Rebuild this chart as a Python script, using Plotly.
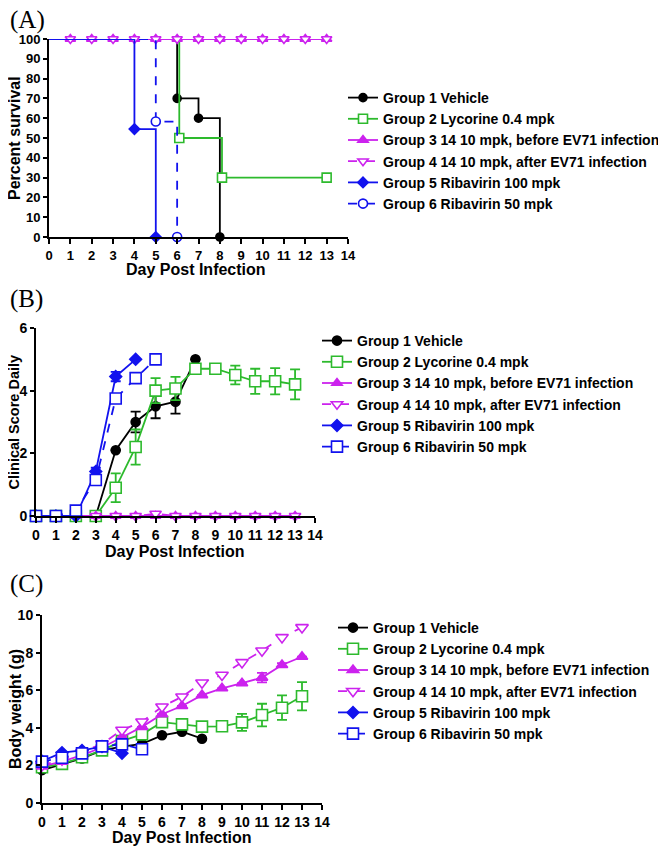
import plotly.graph_objects as go

W, H = 666, 847
OFF = 8  # page body margin offset in the screenshot

def fx(px):
    return (px - OFF) / W

def fy(py):
    return 1 - (py - OFF) / H

# ---------------- DATA ----------------
group_names = [
    "Group 1 Vehicle",
    "Group 2 Lycorine 0.4 mpk",
    "Group 3 14 10 mpk, before EV71 infection",
    "Group 4 14 10 mpk, after EV71 infection",
    "Group 5 Ribavirin 100 mpk",
    "Group 6 Ribavirin 50 mpk",
]

# Panel A: Kaplan-Meier survival (time, percent survival)
surv_t_g1 = [0, 6, 7, 8]
surv_s_g1 = [100, 70, 60, 0]
surv_t_g2 = [0, 6.1, 8.1, 13]
surv_s_g2 = [100, 50, 30, 30]
surv_t_g3 = [0, 1, 2, 3, 4, 5, 6, 7, 8, 9, 10, 11, 12, 13]
surv_s_g3 = [100, 100, 100, 100, 100, 100, 100, 100, 100, 100, 100, 100, 100, 100]
surv_t_g4 = [0, 1, 2, 3, 4, 5, 6, 7, 8, 9, 10, 11, 12, 13]
surv_s_g4 = [100, 100, 100, 100, 100, 100, 100, 100, 100, 100, 100, 100, 100, 100]
surv_t_g5 = [0, 4, 5]
surv_s_g5 = [100, 54.5, 0]
surv_t_g6 = [0, 5, 6]
surv_s_g6 = [100, 58.3, 0]

# Panel B: clinical score (mean, error)
cs_d_g1 = [0, 1, 2, 3, 4, 5, 6, 7, 8]
cs_v_g1 = [0, 0, 0, 0, 2.1, 3.0, 3.5, 3.65, 5.0]
cs_e_g1 = [0, 0, 0, 0, 0, 0.33, 0.38, 0.38, 0]
cs_d_g2 = [0, 1, 2, 3, 4, 5, 6, 7, 8, 9, 10, 11, 12, 13]
cs_v_g2 = [0, 0, 0, 0, 0.9, 2.2, 4.0, 4.07, 4.7, 4.7, 4.5, 4.3, 4.3, 4.2]
cs_e_g2 = [0, 0, 0, 0, 0.46, 0.56, 0.4, 0.37, 0, 0, 0.3, 0.4, 0.42, 0.48]
cs_d_g3 = [0, 1, 2, 3, 4, 5, 6, 7, 8, 9, 10, 11, 12, 13]
cs_v_g3 = [0, 0, 0, 0, 0, 0, 0, 0, 0, 0, 0, 0, 0, 0]
cs_d_g4 = [0, 1, 2, 3, 4, 5, 6, 7, 8, 9, 10, 11, 12, 13]
cs_v_g4 = [0, 0, 0, 0, 0, 0, 0.07, 0, 0, 0, 0, 0, 0, 0]
cs_d_g5 = [0, 1, 2, 3, 4, 5]
cs_v_g5 = [0, 0, 0, 1.42, 4.45, 5.0]
cs_e_g5 = [0, 0, 0, 0.12, 0.15, 0]
cs_d_g6 = [0, 1, 2, 3, 4, 5, 6]
cs_v_g6 = [0, 0, 0.17, 1.15, 3.75, 4.4, 5.0]
cs_e_g6 = [0, 0, 0, 0.1, 0.1, 0, 0]

# Panel C: body weight (g)
bw_d_g1 = [0, 1, 2, 3, 4, 5, 6, 7, 8]
bw_v_g1 = [1.75, 2.05, 2.37, 2.8, 3.0, 3.15, 3.6, 3.79, 3.42]
bw_d_g2 = [0, 1, 2, 3, 4, 5, 6, 7, 8, 9, 10, 11, 12, 13]
bw_v_g2 = [1.9, 2.08, 2.43, 2.8, 3.3, 3.65, 4.3, 4.18, 4.06, 4.08, 4.29, 4.68, 5.07, 5.68]
bw_e_g2 = [0, 0, 0, 0, 0, 0, 0, 0.1, 0, 0.15, 0.45, 0.6, 0.65, 0.75]
bw_d_g3 = [0, 1, 2, 3, 4, 5, 6, 7, 8, 9, 10, 11, 12, 13]
bw_v_g3 = [1.95, 2.2, 2.55, 2.95, 3.5, 4.05, 4.72, 5.16, 5.74, 6.1, 6.37, 6.67, 7.34, 7.78]
bw_e_g3 = [0, 0, 0, 0, 0, 0, 0, 0, 0, 0, 0, 0.25, 0.1, 0]
bw_d_g4 = [0, 1, 2, 3, 4, 5, 6, 7, 8, 9, 10, 11, 12, 13]
bw_v_g4 = [2.0, 2.3, 2.7, 3.15, 3.88, 4.32, 5.12, 5.65, 6.4, 6.81, 7.48, 8.1, 8.81, 9.34]
bw_d_g5 = [0, 1, 2, 3, 4]
bw_v_g5 = [2.22, 2.68, 2.8, 3.0, 2.65]
bw_d_g6 = [0, 1, 2, 3, 4, 5]
bw_v_g6 = [2.2, 2.41, 2.64, 3.01, 3.12, 2.86]

day_ticks = list(range(0, 15))

# ---------------- STYLE ----------------
BLACK = "#000000"
GREEN = "#2DBA2D"
MAG = "#CC22EE"
BLUE = "#1212EE"
FONT = "Liberation Sans, Arial, sans-serif"

styles = [
    dict(color=BLACK, symbol="circle", fill=BLACK, dash="solid"),
    dict(color=GREEN, symbol="square", fill="white", dash="solid"),
    dict(color=MAG, symbol="triangle-up", fill=MAG, dash="solid"),
    dict(color=MAG, symbol="triangle-down", fill="white", dash="dash"),
    dict(color=BLUE, symbol="diamond", fill=BLUE, dash="solid"),
    dict(color=BLUE, symbol="square", fill="white", dash="dash"),
]

fig = go.Figure()


def marker(st, size, symbol=None):
    return dict(symbol=symbol or st["symbol"], size=size, color=st["fill"],
                line=dict(color=st["color"], width=1.6))


# ---- Panel A ----
surv = [(surv_t_g1, surv_s_g1), (surv_t_g2, surv_s_g2), (surv_t_g3, surv_s_g3),
        (surv_t_g4, surv_s_g4), (surv_t_g5, surv_s_g5), (surv_t_g6, surv_s_g6)]
for i, (t, s) in enumerate(surv):
    st = styles[i]
    sym = "circle" if i == 5 else st["symbol"]
    sz = 8 if i in (0, 4) else 9
    fig.add_trace(go.Scatter(x=t, y=s, mode="lines", line_shape="hv",
                             line=dict(color=st["color"], width=1.8, dash=st["dash"]),
                             xaxis="x", yaxis="y", showlegend=False, cliponaxis=False))
    fig.add_trace(go.Scatter(x=t[1:], y=s[1:], mode="markers", marker=marker(st, sz, sym),
                             xaxis="x", yaxis="y", showlegend=False, cliponaxis=False))
    fig.add_trace(go.Scatter(x=[None], y=[None], mode="lines+markers", name=group_names[i],
                             line=dict(color=st["color"], width=1.8, dash=st["dash"]),
                             marker=marker(st, sz, sym), xaxis="x", yaxis="y",
                             legend="legend"))

# ---- Panel B ----
cs = [(cs_d_g1, cs_v_g1, cs_e_g1), (cs_d_g2, cs_v_g2, cs_e_g2), (cs_d_g3, cs_v_g3, None),
      (cs_d_g4, cs_v_g4, None), (cs_d_g5, cs_v_g5, cs_e_g5), (cs_d_g6, cs_v_g6, cs_e_g6)]
for i, (d, v, e) in enumerate(cs):
    st = styles[i]
    sz = {0: 9, 1: 11, 2: 9, 3: 10, 4: 9, 5: 11}[i]
    err = dict(type="data", array=e, visible=True, color=st["color"], thickness=1.8, width=5) if e else None
    fig.add_trace(go.Scatter(x=d, y=v, mode="lines+markers", name=group_names[i],
                             line=dict(color=st["color"], width=1.8, dash=st["dash"]),
                             marker=marker(st, sz), error_y=err,
                             xaxis="x2", yaxis="y2", legend="legend2", cliponaxis=False))

# ---- Panel C ----
bw = [(bw_d_g1, bw_v_g1, None), (bw_d_g2, bw_v_g2, bw_e_g2), (bw_d_g3, bw_v_g3, bw_e_g3),
      (bw_d_g4, bw_v_g4, None), (bw_d_g5, bw_v_g5, None), (bw_d_g6, bw_v_g6, None)]
for i, (d, v, e) in enumerate(bw):
    st = styles[i]
    sz = {0: 9, 1: 11, 2: 10, 3: 11, 4: 9, 5: 11}[i]
    err = dict(type="data", array=e, visible=True, color=st["color"], thickness=1.8, width=5) if e else None
    fig.add_trace(go.Scatter(x=d, y=v, mode="lines+markers", name=group_names[i],
                             line=dict(color=st["color"], width=1.8, dash=st["dash"]),
                             marker=marker(st, sz), error_y=err,
                             xaxis="x3", yaxis="y3", legend="legend3", cliponaxis=False))


def xax(d0, d1, anchor, tsize):
    return dict(domain=[fx(d0), fx(d1)], range=[0, 14], anchor=anchor,
                tickmode="array", tickvals=day_ticks, ticktext=[str(t) for t in day_ticks],
                showline=True, linecolor="black", linewidth=2, ticks="outside",
                ticklen=5, tickwidth=2, tickcolor="black", showgrid=False, zeroline=False,
                automargin=False,
                tickfont=dict(family=FONT, size=tsize, color="black", weight="bold"))


def yax(d0, d1, rng, dtick, anchor, tsize):
    return dict(domain=[fy(d0), fy(d1)], range=rng, anchor=anchor, dtick=dtick, tick0=0,
                showline=True, linecolor="black", linewidth=2, ticks="outside",
                ticklen=4, tickwidth=2, tickcolor="black", showgrid=False, zeroline=False,
                automargin=False,
                tickfont=dict(family=FONT, size=tsize, color="black", weight="bold"))


leg_common = dict(bgcolor="rgba(0,0,0,0)", xanchor="left", yanchor="top",
                  tracegroupgap=0, itemclick=False)
leg_font = dict(family=FONT, size=14, color="black", weight="bold")

fig.update_layout(
    width=W, height=H, margin=dict(l=0, r=0, t=0, b=0, autoexpand=False),
    paper_bgcolor="white", plot_bgcolor="white",
    xaxis=xax(49, 348, "y", 13),
    yaxis=yax(237, 39, [0, 100], 10, "x", 13),
    xaxis2=xax(36, 315, "y2", 14),
    yaxis2=yax(516, 328, [0, 6], 2, "x2", 14),
    xaxis3=xax(42, 322, "y3", 14),
    yaxis3=yax(803, 615, [0, 10], 2, "x3", 14),
    legend=dict(x=fx(343), y=fy(82), font=leg_font, **leg_common),
    legend2=dict(x=fx(317), y=fy(325), font=leg_font, **leg_common),
    legend3=dict(x=fx(333), y=fy(612), font=leg_font, **leg_common),
)

ann_font = dict(family=FONT, size=16, color="black", weight="bold")
ann_font_b = dict(family=FONT, size=14.5, color="black", weight="bold")
panel_font = dict(family="Liberation Serif, Times New Roman, serif", size=25, color="black")
annotations = [
    dict(text="(A)", x=fx(8), y=fy(20), xanchor="left", yanchor="middle", font=panel_font),
    dict(text="(B)", x=fx(8), y=fy(299), xanchor="left", yanchor="middle", font=panel_font),
    dict(text="(C)", x=fx(8), y=fy(584), xanchor="left", yanchor="middle", font=panel_font),
    dict(text="Day Post Infection", x=fx(196), y=fy(270), xanchor="center", yanchor="middle", font=ann_font),
    dict(text="Day Post Infection", x=fx(175), y=fy(551), xanchor="center", yanchor="middle", font=ann_font),
    dict(text="Day Post Infection", x=fx(182), y=fy(837), xanchor="center", yanchor="middle", font=ann_font),
    dict(text="Percent survival", x=fx(15), y=fy(138), xanchor="center", yanchor="middle", textangle=-90, font=ann_font),
    dict(text="Clinical Score Daily", x=fx(13.5), y=fy(422), xanchor="center", yanchor="middle", textangle=-90, font=ann_font_b),
    dict(text="Body weight (g)", x=fx(15), y=fy(709), xanchor="center", yanchor="middle", textangle=-90, font=ann_font),
]
for a in annotations:
    a.update(xref="paper", yref="paper", showarrow=False)
fig.update_layout(annotations=annotations)

fig.write_html("out.html")
